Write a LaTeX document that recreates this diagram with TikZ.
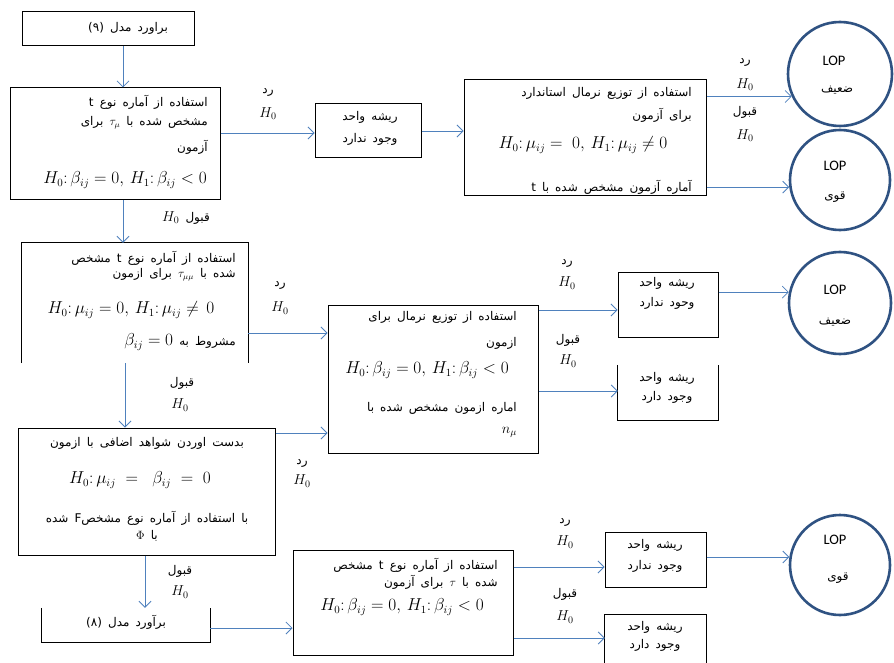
\documentclass[tikz,border=0pt]{standalone}
\usepackage{fontspec}
\usetikzlibrary{arrows.meta}
\TeXXeTstate=1
\newfontfamily\farsifont[Script=Arabic,WordSpace=1.6]{DejaVu Sans}
\newfontfamily\lopfont{Carlito}
\newcommand{\fa}[1]{{\farsifont\beginR #1\endR}}
\newcommand{\LR}[1]{\beginL#1\endL{}}
\newcommand{\mfs}{\fontsize{16}{18}\selectfont}
\definecolor{arrowblue}{RGB}{79,129,189}
\definecolor{circblue}{RGB}{47,82,130}
\tikzset{
  box/.style={draw=black, line width=1pt, inner sep=0pt},
  obox/.style={inner sep=0pt},
  edge/.style={draw=black, line width=1pt},
  arr/.style={draw=arrowblue, line width=0.8pt, -{Straight Barb[length=6pt,width=12pt]}},
  circ/.style={circle, draw=circblue, line width=2.6pt, inner sep=0pt},
  txt/.style={inner sep=0pt, font=\farsifont\fontsize{12}{14}\selectfont},
  mth/.style={inner sep=0pt, font=\mfs},
  lbl/.style={inner sep=0pt, font=\farsifont\fontsize{12}{14}\selectfont},
  hlbl/.style={inner sep=0pt, font=\fontsize{14}{16}\selectfont},
  lop/.style={inner sep=0pt, font=\lopfont\fontsize{14.5}{16}\selectfont},
}
\begin{document}
\begin{tikzpicture}[x=1pt,y=-1pt]
\useasboundingbox (0,0) rectangle (894,663);
\fill[white] (0,0) rectangle (894,663);

% ---------- row 1 ----------
\node[box, minimum width=172pt, minimum height=34pt] (b1) at (108,29) {};
\node[txt] (t1) at (128,28) {\fa{براورد مدل \LR{(۹)}}};

\node[box, minimum width=210pt, minimum height=112pt] (b2) at (115,144) {};
\node[txt, anchor=east] (t2a) at (208,102) {\fa{استفاده از آماره نوع t}};
\node[txt, anchor=east] (t2b) at (208,123) {\fa{مشخص شده با \LR{$\tau_{\mu}$} برای}};
\node[txt, anchor=east] (t2c) at (208,147) {\fa{آزمون}};
\node[mth] (f2) at (125,180) {$H_0{:}\,\beta_{ij}=0,\, H_1{:}\,\beta_{ij}<0$};

\node[box, minimum width=106pt, minimum height=54pt] (b3) at (368,131) {};
\node[txt] (t3a) at (370,117) {\fa{ریشه واحد}};
\node[txt] (t3b) at (370,139) {\fa{وجود ندارد}};

\node[box, minimum width=242pt, minimum height=116pt] (b4) at (585,138) {};
\node[txt, anchor=east] (t4a) at (692,93) {\fa{استفاده از توزیع نرمال استاندارد}};
\node[txt, anchor=east] (t4b) at (692,115) {\fa{برای آزمون}};
\node[mth] (f4) at (583,145) {$H_0{:}\,\mu_{ij}=\;0,\, H_1{:}\,\mu_{ij}\neq 0$};
\node[txt, anchor=east] (t4c) at (692,187) {\fa{آماره آزمون مشخص شده با t}};

\node[circ, minimum size=104pt] (c1) at (840,74) {};
\node[lop] (c1a) at (834,61) {LOP};
\node[txt] (c1b) at (837,90) {\fa{ضعیف}};
\node[circ, minimum size=100pt] (c2) at (840,180) {};
\node[lop] (c2a) at (835,166) {LOP};
\node[txt] (c2b) at (835,197) {\fa{قوی}};

\draw[arr] (b1.south -| 123,0) -- (b2.north -| 123,0);
\draw[arr] (b2.east |- 0,133) -- (b3.west |- 0,133);
\draw[arr] (b3.east |- 0,131) -- (b4.west |- 0,131);
\draw[arr] (b4.east |- c1.205) -- (c1.205);
\draw[arr] (b4.east |- c2.188) -- (c2.188);

\node[lbl] (l1a) at (268,92) {\fa{رد}};
\node[hlbl] (l1b) at (268,114) {$H_0$};
\node[lbl] (l2a) at (745,62) {\fa{رد}};
\node[hlbl] (l2b) at (745,85) {$H_0$};
\node[lbl] (l3a) at (745,112) {\fa{قبول}};
\node[hlbl] (l3b) at (745,136) {$H_0$};
\node[lbl] (l4) at (186,218) {\fa{قبول \LR{\fontsize{14}{16}\selectfont$H_0$}}};

% ---------- row 2 ----------
\node[obox, minimum width=226pt, minimum height=120pt] (b5) at (135,303) {};
\draw[edge] (b5.south west) -- (b5.north west) -- (b5.north east) -- (b5.south east);
\node[txt, anchor=east] (t5a) at (236,258) {\fa{استفاده از آماره نوع t مشخص}};
\node[txt, anchor=east] (t5b) at (236,275) {\fa{شده با \LR{$\tau_{\mu\mu}$} برای ازمون}};
\node[mth] (f5) at (131,310) {$H_0{:}\,\mu_{ij}=0,\, H_1{:}\,\mu_{ij}\neq\,0$};
\node[txt, anchor=east] (t5c) at (236,342) {\fa{مشروط به \LR{\mfs$\beta_{ij}=0$}}};

\node[box, minimum width=210pt, minimum height=148pt] (b7) at (433,379) {};
\node[txt, anchor=east] (t7a) at (517,317) {\fa{استفاده از توزیع نرمال برای}};
\node[txt, anchor=east] (t7b) at (517,343) {\fa{ازمون}};
\node[mth] (f7) at (427,370) {$H_0{:}\,\beta_{ij}=0,\, H_1{:}\,\beta_{ij}<0$};
\node[txt, anchor=east] (t7c) at (517,408) {\fa{اماره ازمون مشخص شده با}};
\node[hlbl, anchor=east] (t7d) at (517,432) {$n_{\mu}$};

\node[box, minimum width=100pt, minimum height=65pt] (b8) at (668,304.5) {};
\node[txt] (t8a) at (667,283) {\fa{ریشه واحد}};
\node[txt] (t8b) at (667,303) {\fa{وحود ندارد}};

\node[obox, minimum width=100pt, minimum height=55pt] (b9) at (668,392.5) {};
\draw[edge] (b9.north west) -- (b9.south west) -- (b9.south east) -- (b9.north east);
\node[txt] (t9a) at (667,378) {\fa{ریشه واحد}};
\node[txt] (t9b) at (667,397) {\fa{وجود دارد}};

\node[circ, minimum size=102pt] (c3) at (840,303) {};
\node[lop] (c3a) at (835,290) {LOP};
\node[txt] (c3b) at (835,322) {\fa{ضعیف}};

\draw[arr] (b2.south -| 123,0) -- (b5.north -| 123,0);
\draw[arr] (b5.east |- 0,333) -- (b7.west |- 0,333);
\draw[arr] (b7.east |- 0,310) -- (b8.west |- 0,310);
\draw[arr] (b7.east |- 0,391) -- (b9.west |- 0,391);
\draw[arr] (b8.east |- c3.168) -- (c3.168);

\node[lbl] (l5a) at (280,285) {\fa{رد}};
\node[hlbl] (l5b) at (280,308) {$H_0$};
\node[lbl] (l6a) at (567,263) {\fa{رد}};
\node[hlbl] (l6b) at (567,283) {$H_0$};
\node[lbl] (l7a) at (568,340) {\fa{قبول}};
\node[hlbl] (l7b) at (568,361) {$H_0$};

% ---------- row 3 ----------
\node[box, minimum width=257pt, minimum height=127pt] (b6) at (146.5,491.5) {};
\node[txt] (t6a) at (147,443) {\fa{بدست اوردن شواهد اضافی با ازمون}};
\node[mth] (f6) at (140,480) {$H_0{:}\,\mu_{ij}\;=\;\;\beta_{ij}\;=\;0$};
\node[txt] (t6b) at (147,518) {\fa{با استفاده از آماره نوع Fمشخص شده}};
\node[txt] (t6c) at (147,536) {\fa{با \LR{\fontsize{13}{15}\selectfont$\Phi$}}};

\draw[arr] (b5.south -| 125,0) -- (b6.north -| 125,0);
\draw[arr] (b6.east |- 0,433) -- (b7.west |- 0,433);

\node[lbl] (l8a) at (182,383) {\fa{قبول}};
\node[hlbl] (l8b) at (180,405) {$H_0$};
\node[lbl] (l9a) at (302,463) {\fa{رد}};
\node[hlbl] (l9b) at (302,481) {$H_0$};

% ---------- row 4 ----------
\node[obox, minimum width=168pt, minimum height=34pt] (b10) at (126,625) {};
\draw[edge] (b10.north west) -- (b10.south west) -- (b10.south east) -- (b10.north east);
\node[txt] (t10) at (126,622) {\fa{برآورد مدل \LR{(۸)}}};

\node[box, minimum width=220pt, minimum height=105pt] (b11) at (403,602.5) {};
\node[txt, anchor=east] (t11a) at (498,565) {\fa{استفاده از آماره نوع t مشخص}};
\node[txt, anchor=east] (t11b) at (498,582) {\fa{شده با \LR{$\tau$} برای آزمون}};
\node[mth] (f11) at (402,607) {$H_0{:}\,\beta_{ij}=0,\, H_1{:}\,\beta_{ij}<0$};

\node[box, minimum width=101pt, minimum height=55pt] (b12) at (655.5,559.5) {};
\node[txt] (t12a) at (655,545) {\fa{ریشه واحد}};
\node[txt] (t12b) at (655,566) {\fa{وجود ندارد}};

\node[obox, minimum width=101pt, minimum height=60pt] (b13) at (655.5,645) {};
\draw[edge] (b13.south west) -- (b13.north west) -- (b13.north east) -- (b13.south east);
\node[txt] (t13a) at (655,627) {\fa{ریشه واحد}};
\node[txt] (t13b) at (655,645) {\fa{وجود دارد}};

\node[circ, minimum size=100pt] (c4) at (840,565) {};
\node[lop] (c4a) at (835,540) {LOP};
\node[txt] (c4b) at (838,578) {\fa{قوی}};

\draw[arr] (b6.south -| 145,0) -- (b10.north -| 145,0);
\draw[arr] (b10.east |- 0,628) -- (b11.west |- 0,628);
\draw[arr] (b11.east |- 0,567) -- (b12.west |- 0,567);
\draw[arr] (b11.east |- 0,638) -- (b13.west |- 0,638);
\draw[arr] (b12.east |- c4.171) -- (c4.171);

\node[lbl] (l10a) at (180,571) {\fa{قبول}};
\node[hlbl] (l10b) at (180,592) {$H_0$};
\node[lbl] (l11a) at (565,522) {\fa{رد}};
\node[hlbl] (l11b) at (565,542) {$H_0$};
\node[lbl] (l12a) at (565,594) {\fa{قبول}};
\node[hlbl] (l12b) at (565,617) {$H_0$};
\end{tikzpicture}
\end{document}
